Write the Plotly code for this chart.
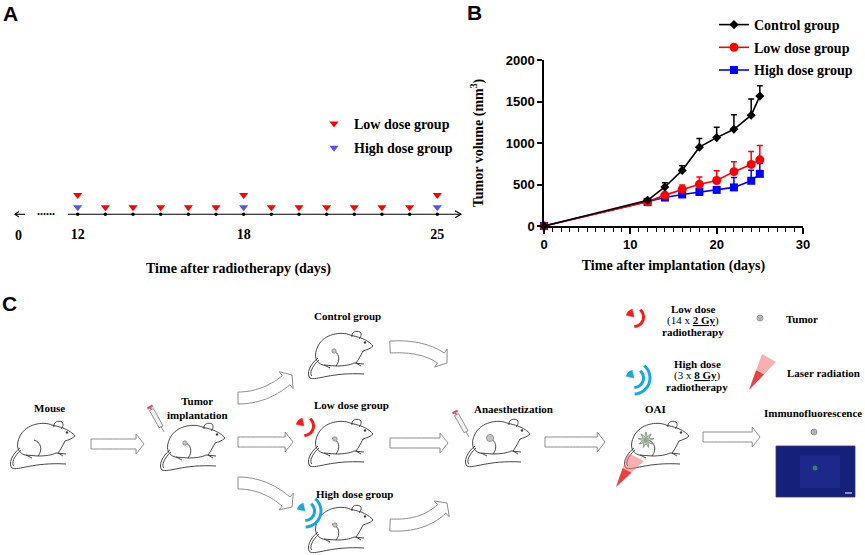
import numpy as np
import plotly.graph_objects as go

# A: irradiation schedule (days after the start of radiotherapy)
low_dose_days = [12, 13, 14, 15, 16, 17, 18, 19, 20, 21, 22, 23, 24, 25]
high_dose_days = [12, 18, 25]
schedule_ticks = [12, 18, 25]

# B: tumor volume (mm3), mean with upper error bar
days = [0, 12, 14, 16, 18, 20, 22, 24, 25]
control_mean = [0, 310, 470, 670, 950, 1065, 1165, 1335, 1565]
control_err = [0, 18, 50, 55, 105, 125, 175, 195, 125]
low_mean = [0, 292, 372, 440, 502, 548, 655, 742, 797]
low_err = [0, 0, 18, 55, 88, 118, 118, 155, 172]
high_mean = [0, 288, 343, 380, 410, 435, 465, 545, 628]
high_err = [0, 0, 12, 22, 25, 32, 118, 128, 125]

W, H = 865, 555
SERIF = "Liberation Serif"
SANS = "Liberation Sans"
GRAY = "#8c8c8c"

fig = go.Figure()

# ---- panel B: growth curves (high first so control is drawn on top)
groups = [
    ("High dose group", high_mean, high_err, "#0000ff", "square", 8, 3),
    ("Low dose group", low_mean, low_err, "#ff0000", "circle", 9, 2),
    ("Control group", control_mean, control_err, "#000000", "diamond", 7, 1),
]
for name, mean, err, col, sym, size, rank in groups:
    fig.add_trace(go.Scatter(
        x=days, y=mean, name=name, mode="lines+markers", legendgroup=name, legendrank=rank,
        line=dict(color=col, width=1.6),
        marker=dict(symbol=sym, size=size, color=col),
        error_y=dict(type="data", symmetric=False, array=err,
                     arrayminus=[0] * len(err), color=col, thickness=1.5, width=3),
        cliponaxis=False,
    ))

# ---- panel A: schedule (row 0 = time line, 0.7 / 1.93 = triangle rows)
low_row = [1.93 if d in high_dose_days else 0.7 for d in low_dose_days]
fig.add_trace(go.Scatter(x=low_dose_days, y=[0] * len(low_dose_days), xaxis="x2", yaxis="y2",
                         mode="markers", marker=dict(size=3.5, color="black"),
                         showlegend=False, hoverinfo="skip"))
fig.add_trace(go.Scatter(x=low_dose_days, y=low_row, xaxis="x2", yaxis="y2", mode="markers",
                         name="Low dose group", legend="legend2", legendgroup="a_low",
                         marker=dict(symbol="triangle-down", size=8, color="#ff0000")))
fig.add_trace(go.Scatter(x=high_dose_days, y=[0.7] * len(high_dose_days), xaxis="x2", yaxis="y2",
                         mode="markers", name="High dose group", legend="legend2",
                         legendgroup="a_high",
                         marker=dict(symbol="triangle-down", size=8, color="#5555ee")))


# ---- drawing helpers (pixel coordinates on an invisible overlay axis)
def fmt(pts):
    return "M" + " L".join(f"{x:.1f},{y:.1f}" for x, y in pts)


def path(d, color="#222", width=1.0, fill=None):
    s = dict(type="path", xref="x3", yref="y3", path=d, line=dict(color=color, width=width))
    if fill:
        s["fillcolor"] = fill
    return s


def circle(x, y, r, fill, color="#888", width=0.8):
    return dict(type="circle", xref="x3", yref="y3", x0=x - r, x1=x + r, y0=y - r, y1=y + r,
                fillcolor=fill, line=dict(color=color, width=width))


def bez(p0, c, p1, t):
    p0, c, p1 = map(np.asarray, (p0, c, p1))
    pt = (1 - t) ** 2 * p0 + 2 * (1 - t) * t * c + t ** 2 * p1
    d = 2 * (1 - t) * (c - p0) + 2 * t * (p1 - c)
    return pt, d


def hollow_arrow(p0, p1, c=None, half=5, head=10, head_len=8):
    if c is None:
        c = ((p0[0] + p1[0]) / 2, (p0[1] + p1[1]) / 2)
    ts = np.linspace(0, 1, 300)
    pts = np.array([bez(p0, c, p1, t)[0] for t in ts])
    dist = np.hypot(pts[:, 0] - p1[0], pts[:, 1] - p1[1])
    th = ts[np.argmax(dist < head_len)]
    left, right = [], []
    for t in np.linspace(0, th, 20):
        p, d = bez(p0, c, p1, t)
        n = np.array([-d[1], d[0]]) / np.hypot(*d)
        left.append(p + n * half)
        right.append(p - n * half)
    p, d = bez(p0, c, p1, th)
    n = np.array([-d[1], d[0]]) / np.hypot(*d)
    poly = left + [p + n * head, np.asarray(p1, float), p - n * head] + right[::-1]
    return path(fmt(poly) + " Z", color=GRAY, width=1, fill="white")


MOUSE = [
    [("M", [(44, 5)]), ("C", [(35, 1), (18, 4), (12, 16)]), ("C", [(7, 26), (10, 33), (17, 35)]),
     ("L", [(30, 36)]), ("C", [(38, 36), (44, 35), (48, 33)]), ("L", [(58, 34)])],
    [("M", [(44, 5)]), ("C", [(48, 6), (52, 7), (55, 8)]), ("C", [(60, 10), (65, 13), (67, 16)]),
     ("C", [(64, 19), (60, 20), (57, 21)]), ("C", [(55, 25), (53, 29), (50, 33)])],
    [("M", [(46, 7)]), ("C", [(45, 2), (50, 0), (54, 2)]), ("C", [(56, 4), (55, 7), (53, 9)])],
    [("M", [(26, 20)]), ("C", [(33, 22), (35, 30), (30, 36)])],
    [("M", [(18, 35)]), ("L", [(24, 38), (31, 37)])],
    [("M", [(50, 33)]), ("L", [(55, 36), (60, 35)])],
    [("M", [(12, 28)]), ("C", [(4, 34), (0, 44), (4, 48)]), ("C", [(10, 51), (25, 42), (58, 44)])],
    [("M", [(13, 30)]), ("C", [(6, 36), (3, 44), (6, 46)])],
]


def mouse(ox, oy):
    out = []
    for part in MOUSE:
        d = " ".join(cmd + " ".join(f"{ox + x:.1f},{oy + y:.1f}" for x, y in pts) for cmd, pts in part)
        out.append(path(d, color="#333", width=0.9))
    out.append(circle(ox + 59, oy + 12.5, 0.9, "#222", "#222", 0.5))
    return out


def radiation(cx, cy, n_arcs, color):
    out = []
    a = np.radians(np.linspace(192, 258, 10))
    wedge = [(cx, cy)] + [(cx + 8 * np.cos(v), cy + 8 * np.sin(v)) for v in a]
    out.append(path(fmt(wedge) + " Z", color=color, width=0.5, fill=color))
    for k in range(n_arcs):
        r = 9.5 + 6.5 * k
        a = np.radians(np.linspace(-50, 88, 16))
        out.append(path(fmt([(cx + r * np.cos(v), cy + r * np.sin(v)) for v in a]), color=color, width=3))
    return out


def cone(tip, c1, c2):
    mid1 = (tip[0] + 0.55 * (c1[0] - tip[0]), tip[1] + 0.55 * (c1[1] - tip[1]))
    mid2 = (tip[0] + 0.55 * (c2[0] - tip[0]), tip[1] + 0.55 * (c2[1] - tip[1]))
    return [path(fmt([tip, c1, c2]) + " Z", color="rgba(0,0,0,0)", width=0, fill="rgba(240,110,110,0.55)"),
            path(fmt([tip, mid1, mid2]) + " Z", color="rgba(0,0,0,0)", width=0, fill="rgba(230,30,30,0.75)")]


def syringe(top, tip):
    top, tip = np.asarray(top, float), np.asarray(tip, float)
    d = (tip - top) / np.hypot(*(tip - top))
    n = np.array([-d[1], d[0]])
    b0 = top + d * 3
    b1 = tip - d * 6
    barrel = [b0 + n * 2.2, b1 + n * 2.2, b1 - n * 2.2, b0 - n * 2.2]
    return [path(fmt(barrel) + " Z", color="#777", width=0.8, fill="#f2f2f2"),
            path(fmt([b1, tip]), color="#777", width=0.8),
            path(fmt([top - n * 3, top + n * 3]), color="#e0506a", width=2.2),
            path(fmt([top, b0]), color="#e0506a", width=1.5)]


def star(cx, cy, ro, ri, k=9):
    a = np.linspace(-np.pi / 2, 1.5 * np.pi, 2 * k, endpoint=False)
    r = np.where(np.arange(2 * k) % 2 == 0, ro, ri)
    return path(fmt(list(zip(cx + r * np.cos(a), cy + r * np.sin(a)))) + " Z",
                color="#7a8a7a", width=0.8, fill="#c9d6c4")


shapes = []

# panel A time line
shapes.append(path(fmt([(68, 214.3), (461, 214.3)]), color="black", width=1.1))
shapes.append(path(fmt([(455, 210.8), (461, 214.3), (455, 217.8)]), color="black", width=1.1))
shapes.append(path(fmt([(15, 214.3), (25, 214.3)]), color="black", width=1.1))
shapes.append(path(fmt([(19, 211.5), (15, 214.3), (19, 217.1)]), color="black", width=1.1))

# panel C arrows
shapes.append(hollow_arrow((91, 444), (144, 444)))
shapes.append(hollow_arrow((238, 442), (293, 442)))
shapes.append(hollow_arrow((238, 398), (292, 375), c=(268, 398), half=6, head=11))
shapes.append(hollow_arrow((238, 483), (292, 507), c=(268, 483), half=6, head=11))
shapes.append(hollow_arrow((390, 347), (447, 363), c=(428, 345), half=6, head=11))
shapes.append(hollow_arrow((390, 443), (448, 443)))
shapes.append(hollow_arrow((390, 525), (447, 503), c=(428, 527), half=6, head=11))
shapes.append(hollow_arrow((545, 442), (605, 442)))
shapes.append(hollow_arrow((703, 437), (760, 437)))

# mice
for ox, oy in [(8, 420), (158, 422), (306, 330), (306, 418), (306, 504), (463, 418), (622, 420)]:
    shapes += mouse(ox, oy)
shapes.append(circle(185, 443, 2.2, "#c4c4c4"))
shapes.append(circle(334, 351, 2.2, "#c4c4c4"))
shapes.append(circle(335, 439, 2.2, "#c4c4c4"))
shapes.append(circle(335, 525, 2.2, "#c4c4c4"))
shapes.append(circle(490, 438, 3.6, "#c4c4c4"))
shapes.append(star(646, 440, 8, 3.5))
shapes.append(circle(646, 440, 2.5, "#9aa39a", "#9aa39a"))

# radiation symbols, laser cones, syringes
shapes += radiation(304, 426, 1, "#ff1a1a")
shapes += radiation(305, 511, 2, "#17a8e3")
shapes += radiation(634, 317, 1, "#ff1a1a")
shapes += radiation(634, 378, 2, "#17a8e3")
shapes += cone((616, 487), (628, 453), (644, 461))
shapes += cone((749, 390), (762, 354), (776, 362))
shapes += syringe((150, 407), (164, 432))
shapes += syringe((455, 412), (469, 437))

# tumor markers and immunofluorescence image
shapes.append(circle(760, 318, 3, "#b4b4b4"))
shapes.append(circle(814, 432, 3, "#b4b4b4"))
shapes.append(dict(type="rect", xref="x3", yref="y3", x0=776, x1=855, y0=446, y1=497,
                   fillcolor="#15207a", line=dict(color="#3a3a5a", width=0.8)))
shapes.append(dict(type="rect", xref="x3", yref="y3", x0=800, x1=840, y0=455, y1=488,
                   fillcolor="rgba(40,50,160,0.45)", line=dict(width=0)))
shapes.append(circle(815, 468, 2.5, "rgba(60,170,90,0.7)", "rgba(0,0,0,0)", 0))
shapes.append(path(fmt([(845, 493), (852, 493)]), color="white", width=1))


def label(x, y, text, size=11, family=SERIF, bold=True):
    return dict(xref="x3", yref="y3", x=x, y=y, text=text, showarrow=False,
                font=dict(family=family, size=size, color="black", weight="bold" if bold else "normal"),
                xanchor="center", yanchor="middle")


NORM = '<span style="font-weight:normal">'
annotations = [
    label(10, 13, "A", size=21, family=SANS),
    label(474, 12, "B", size=21, family=SANS),
    label(9, 303, "C", size=21, family=SANS),
    label(18, 235, "0", size=14),
    label(46, 211, "......", size=12),
    label(49, 408, "Mouse"),
    label(197, 408, "Tumor<br>implantation"),
    label(347, 316, "Control group"),
    label(351, 405, "Low dose group"),
    label(354, 494, "High dose group"),
    label(513, 409, "Anaesthetization"),
    label(655, 409, "OAI"),
    label(813, 413, "Immunofluorescence"),
    label(693, 309, "Low dose"),
    label(693, 320.5, NORM + "(14 x </span><u>2 Gy</u>" + NORM + ")</span>"),
    label(693, 332, "radiotherapy"),
    label(697, 364, "High dose"),
    label(697, 375.5, NORM + "(3 x </span><u>8 Gy</u>" + NORM + ")</span>"),
    label(697, 387, "radiotherapy"),
    label(802, 319, "Tumor"),
    label(823, 373, "Laser radiation"),
]

serif_b = dict(family=SERIF, size=14, color="black", weight="bold")
sans_b = dict(family=SANS, size=13, color="black", weight="bold")

fig.update_layout(
    width=W, height=H, margin=dict(l=0, r=0, t=0, b=0, autoexpand=False),
    paper_bgcolor="white", plot_bgcolor="rgba(0,0,0,0)",
    showlegend=True,
    xaxis=dict(domain=[544 / W, 803 / W], range=[0, 30], anchor="y",
               showline=True, linecolor="black", linewidth=1.5, showgrid=False, zeroline=False,
               ticks="outside", ticklen=6, tickwidth=1.5, tickcolor="black", dtick=10,
               minor=dict(dtick=1, ticks="outside", ticklen=4, tickwidth=1.2, tickcolor="black"),
               tickfont=sans_b,
               title=dict(text="Time after implantation (days)", font=serif_b, standoff=9)),
    yaxis=dict(domain=[1 - 226 / H, 1 - 60 / H], range=[0, 2000], anchor="x",
               showline=True, linecolor="black", linewidth=1.5, showgrid=False, zeroline=False,
               ticks="outside", ticklen=5, tickwidth=1.5, tickcolor="black", dtick=500,
               tickfont=sans_b,
               title=dict(text="Tumor volume (mm<sup>3</sup>)", font=serif_b, standoff=19)),
    xaxis2=dict(domain=[15 / W, 462 / W], range=[9.733, 25.894], anchor="y2",
                showline=False, showgrid=False, zeroline=False, ticks="",
                tickvals=schedule_ticks, tickfont=serif_b,
                title=dict(text="Time after radiotherapy (days)", font=serif_b, standoff=21)),
    yaxis2=dict(domain=[1 - 224.3 / H, 1 - 184.3 / H], range=[-1, 3], anchor="x2", visible=False),
    xaxis3=dict(domain=[0, 1], range=[0, W], anchor="y3", visible=False),
    yaxis3=dict(domain=[0, 1], range=[H, 0], anchor="x3", visible=False),
    legend=dict(x=714 / W, y=1 - 9 / H, xanchor="left", yanchor="top", font=serif_b,
                traceorder="grouped", tracegroupgap=1.5, bgcolor="rgba(0,0,0,0)"),
    legend2=dict(x=314 / W, y=1 - 108 / H, xanchor="left", yanchor="top", font=serif_b,
                 traceorder="grouped", tracegroupgap=3, bgcolor="rgba(0,0,0,0)"),
    shapes=shapes,
    annotations=annotations,
)

# drop the browser's default 8px page margin so the figure fills the window
fig.write_html("out.html", config={"displayModeBar": False},
               post_script="document.body.style.margin = '0';")
